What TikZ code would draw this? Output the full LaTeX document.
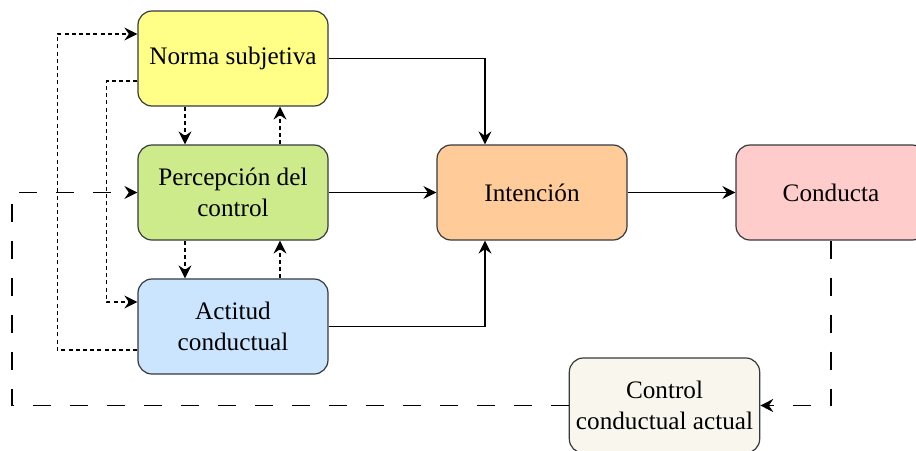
\documentclass[tikz,border=0pt]{standalone}
\usepackage{xcolor}
\usepackage{fontspec}
\setmainfont{Liberation Serif}
\usepackage{tikz}
\usetikzlibrary{positioning,calc,arrows.meta}

\definecolor{normafill}{HTML}{FFFF88}
\definecolor{percepfill}{HTML}{CDEB8B}
\definecolor{actitudfill}{HTML}{CCE5FF}
\definecolor{intentfill}{HTML}{FFCC99}
\definecolor{conductafill}{HTML}{FFCCCC}
\definecolor{controlfill}{HTML}{F9F7ED}
\definecolor{edgegray}{HTML}{36393D}

\begin{document}
\begin{tikzpicture}[
    x=0.5pt, y=-0.5pt,
    font=\fontsize{12.6}{15.5}\selectfont,
    box/.style={
        rectangle,
        draw=edgegray,
        line width=0.6pt,
        rounded corners=7pt,
        minimum width=95pt,
        minimum height=47.5pt,
        align=center
    },
    arrow/.style={-{Stealth[length=6.5pt,width=6.5pt,inset=2.2pt]}, line width=0.75pt},
    dotline/.style={arrow, dash pattern=on 2pt off 1.6pt},
    longdash/.style={arrow, dash pattern=on 9pt off 9.5pt}
]
\useasboundingbox (0,0) rectangle (916,450);

\node[box, fill=normafill] (norma) at (233,58.5) {Norma subjetiva};
\node[box, fill=percepfill] (percep) at (233,192.5) {Percepción del\\control};
\node[box, fill=actitudfill] (actitud) at (233,326.5) {Actitud\\conductual};
\node[box, fill=intentfill] (intent) at (532,192.5) {Intención};
\node[box, fill=conductafill] (conducta) at (831,192.5) {Conducta};
\node[box, fill=controlfill] (control) at (664.5,405.5) {Control\\conductual actual};
\coordinate (lfb) at (12,192.5);

% main flow
\draw[arrow] (norma.east) -| ([xshift=-23.5pt]intent.north);
\draw[arrow] (percep) -- (intent);
\draw[arrow] (actitud.east) -| ([xshift=-23.5pt]intent.south);
\draw[arrow] (intent) -- (conducta);

% feedback
\draw[longdash] (conducta.south) |- (control.east);
\draw[longdash] (control.west) -| (lfb) -- (percep.west);

% links between the three factors
\draw[dotline] ([xshift=-24pt]norma.south) -- ([xshift=-24pt]percep.north);
\draw[dotline] ([xshift=23.5pt]percep.north) -- ([xshift=23.5pt]norma.south);
\draw[dotline] ([xshift=-24pt]percep.south) -- ([xshift=-24pt]actitud.north);
\draw[dotline] ([xshift=23.5pt]actitud.north) -- ([xshift=23.5pt]percep.south);
\draw[dotline] ([yshift=-11.25pt]norma.west) -- ++(-15.5pt,0) |- ([yshift=12.25pt]actitud.west);
\draw[dotline] ([yshift=-11.75pt]actitud.west) -- ++(-40pt,0) |- ([yshift=12.25pt]norma.west);

\end{tikzpicture}
\end{document}
